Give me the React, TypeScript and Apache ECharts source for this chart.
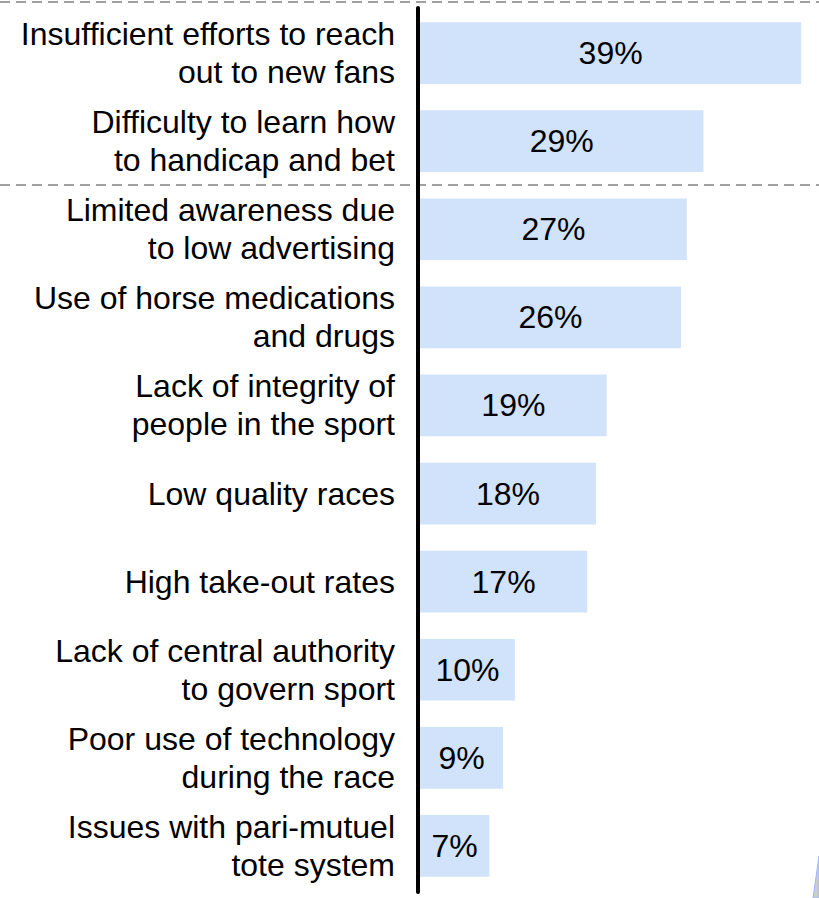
import React, { useEffect, useRef } from "react";
import * as echarts from "echarts";

const categories = [
  "Insufficient efforts to reach\nout to new fans",
  "Difficulty to learn how\nto handicap and bet",
  "Limited awareness due\nto low advertising",
  "Use of horse medications\nand drugs",
  "Lack of integrity of\npeople in the sport",
  "Low quality races",
  "High take-out rates",
  "Lack of central authority\nto govern sport",
  "Poor use of technology\nduring the race",
  "Issues with pari-mutuel\ntote system",
];
// bar lengths as drawn in the picture
const values = [39, 29, 27.3, 26.7, 19.1, 18, 17.1, 9.7, 8.5, 7.1];
// printed labels
const labels = ["39%", "29%", "27%", "26%", "19%", "18%", "17%", "10%", "9%", "7%"];

export default function App() {
  const ref = useRef<HTMLDivElement>(null);
  useEffect(() => {
    if (!ref.current) return;
    const chart = echarts.init(ref.current, null, { renderer: "svg" });
    const font = "'Liberation Sans', Arial, sans-serif";
    chart.setOption({
      animation: false,
      grid: { left: 420, top: 9, width: 391, height: 881, containLabel: false },
      xAxis: {
        type: "value",
        min: 0,
        max: 40,
        show: false,
      },
      yAxis: {
        type: "category",
        inverse: true,
        data: categories,
        axisLine: { show: false },
        axisTick: { show: false },
        axisLabel: {
          margin: 25,
          color: "#000",
          fontSize: 32,
          lineHeight: 38,
          fontFamily: font,
          align: "right",
        },
      },
      series: [
        {
          type: "bar",
          data: values,
          barCategoryGap: "30%",
          itemStyle: { color: "#d0e3fa" },
          label: {
            show: true,
            position: "inside",
            color: "#000",
            fontSize: 32,
            fontFamily: font,
            formatter: (p: any) => labels[p.dataIndex],
          },
        },
      ],
      graphic: [
        {
          type: "line",
          shape: { x1: 0, y1: 2, x2: 819, y2: 2 },
          style: { stroke: "#a0a0a0", lineWidth: 2, lineDash: [10, 6] },
          z: 10,
        },
        {
          type: "line",
          shape: { x1: 0, y1: 185, x2: 819, y2: 185 },
          style: { stroke: "#a0a0a0", lineWidth: 2, lineDash: [10, 6] },
          z: 10,
        },
        {
          type: "line",
          shape: { x1: 418, y1: 8, x2: 418, y2: 892 },
          style: { stroke: "#000", lineWidth: 4, lineCap: "round" },
          z: 20,
        },
        {
          type: "polygon",
          shape: { points: [[819, 856], [813, 898], [819, 898]] },
          style: { fill: "#cccccc", stroke: "#9bb8ff", lineWidth: 1 },
          z: 5,
        },
      ],
    });
    return () => chart.dispose();
  }, []);
  return (
    <div
      ref={ref}
      style={{ position: "fixed", left: 0, top: 0, width: 819, height: 898, background: "#fff" }}
    />
  );
}
